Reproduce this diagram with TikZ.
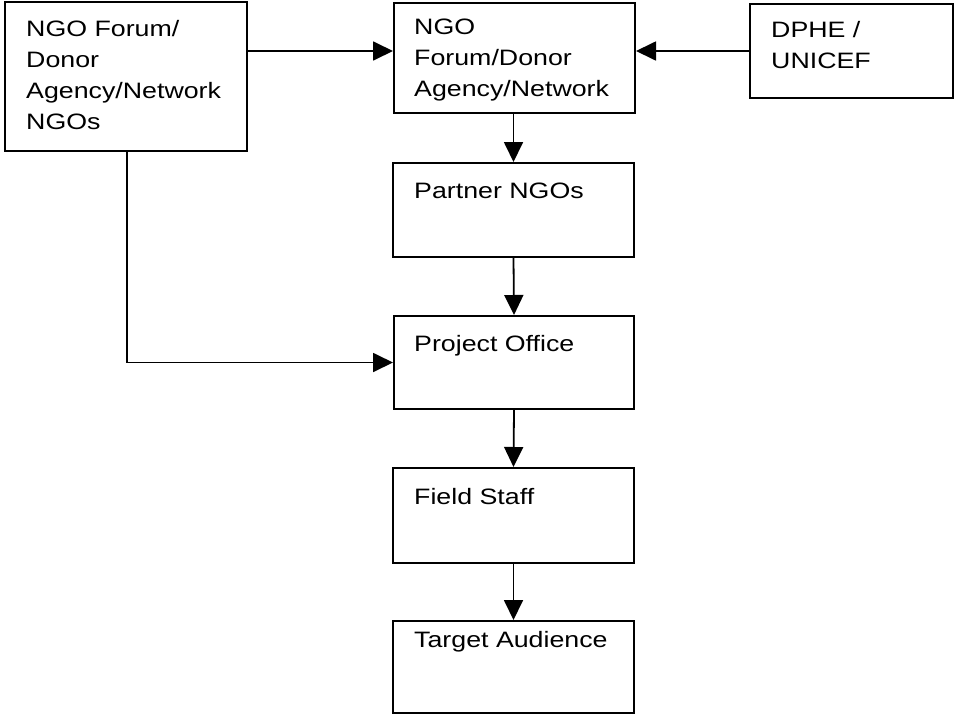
\documentclass[tikz,border=0pt]{standalone}
\usepackage{fontspec}
\newfontfamily\diagfont[FakeStretch=1.2]{Liberation Sans}
\usetikzlibrary{fit,arrows.meta}
\begin{document}
\begin{tikzpicture}[x=1pt,y=-1pt,
  box/.style={draw, line width=2pt, inner sep=0pt},
  boxtext/.style={anchor=base west, inner sep=0pt, align=left,
    font=\diagfont\fontsize{22.3}{31}\selectfont},
  conn/.style={line width=1.8pt, -{Triangle[length=20pt,width=19pt]}}]

\useasboundingbox (0,0) rectangle (955,715);

% boxes
\node[box, fit={(5,2) (247,151)}]   (L)  {};
\node[box, fit={(394,3) (635,113)}] (M)  {};
\node[box, fit={(750,4) (953,98)}]  (R)  {};
\node[box, fit={(393,163) (634,257)}] (P)  {};
\node[box, fit={(394,316) (634,409)}] (PO) {};
\node[box, fit={(393,468) (634,563)}] (FS) {};
\node[box, fit={(393,621) (634,713)}] (TA) {};

% box texts (multi-line nodes sit on the baseline of their last line)
\node[boxtext] (Lt)  at ([shift={(22,128)}]L.north west) {NGO Forum/\\Donor\\Agency/Network\\NGOs};
\node[boxtext] (Mt)  at ([shift={(21,94)}]M.north west)  {NGO\\Forum/Donor\\Agency/Network};
\node[boxtext] (Rt)  at ([shift={(22,65)}]R.north west)  {DPHE /\\UNICEF};
\node[boxtext] (Pt)  at ([shift={(22,36)}]P.north west)  {Partner NGOs};
\node[boxtext] (POt) at ([shift={(21,36)}]PO.north west) {Project Office};
\node[boxtext] (FSt) at ([shift={(22,37)}]FS.north west) {Field Staff};
\node[boxtext] (TAt) at ([shift={(22,27)}]TA.north west) {Target Audience};

% connectors
\draw[conn] (L.east |- R.west) -- (M.west |- R.west);
\draw[conn] (R.west) -- (M.east |- R.west);
\draw[conn] (M.south -| P.north) -- (P.north);
\draw[conn] (P.south) -- (PO.north);
\draw[conn] (PO.south) -- (FS.north);
\draw[conn] (FS.south) -- (TA.north);
\draw[conn] ([xshift=123pt]L.south west) |- (PO.west);
\end{tikzpicture}
\end{document}
